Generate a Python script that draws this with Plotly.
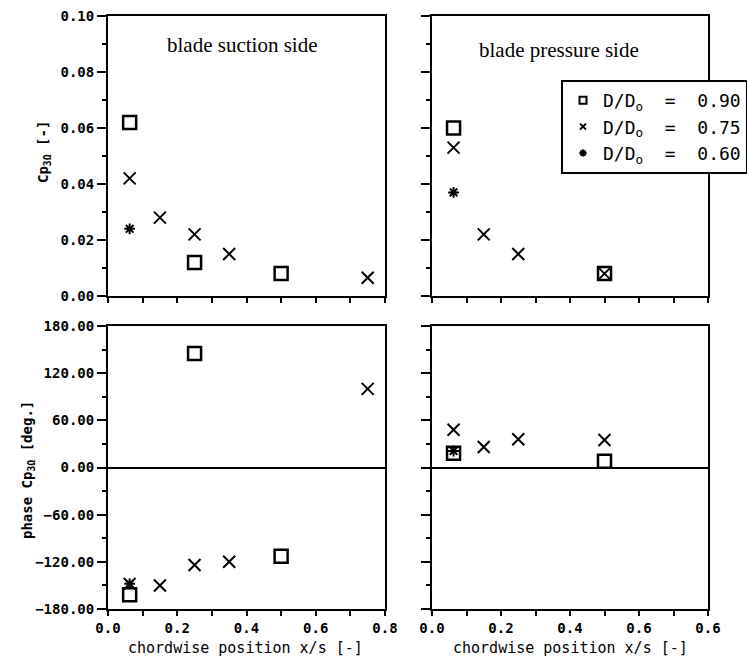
import plotly.graph_objects as go

# ---------------- data ----------------
# blade suction side
ss_sq_x = [0.0625, 0.25, 0.5]
ss_sq_cp = [0.062, 0.012, 0.008]
ss_sq_ph = [-162, 145, -113]

ss_x_x = [0.0625, 0.15, 0.25, 0.35, 0.75]
ss_x_cp = [0.042, 0.028, 0.022, 0.015, 0.0065]
ss_x_ph = [-148, -150, -124, -120, 100]

ss_st_x = [0.0625]
ss_st_cp = [0.024]
ss_st_ph = [-148]

# blade pressure side
ps_sq_x = [0.0625, 0.5]
ps_sq_cp = [0.060, 0.008]
ps_sq_ph = [18, 8]

ps_x_x = [0.0625, 0.15, 0.25, 0.5]
ps_x_cp = [0.053, 0.022, 0.015, 0.008]
ps_x_ph = [48, 26, 36, 35]

ps_st_x = [0.0625]
ps_st_cp = [0.037]
ps_st_ph = [21]

series_names = ["D/D<sub>o</sub>\u00a0\u00a0=\u00a0\u00a00.90",
                "D/D<sub>o</sub>\u00a0\u00a0=\u00a0\u00a00.75",
                "D/D<sub>o</sub>\u00a0\u00a0=\u00a0\u00a00.60"]

x_tickvals = [0.0, 0.2, 0.4, 0.6, 0.8]
x_ticktext_left = ["0.0", "0.2", "0.4", "0.6", "0.8"]
x_ticktext_right = ["0.0", "0.2", "0.4", "0.6", "0.6"]

# ---------------- styles ----------------
W, H = 747, 664
def px_x(p): return p / W
def px_y(p): return 1 - p / H

sym = [
    dict(symbol="square-open", size=13, color="black", line=dict(width=2.5, color="black")),
    dict(symbol="x-thin-open", size=12, color="black", line=dict(width=2, color="black")),
    dict(symbol="asterisk-open", size=9, color="black", line=dict(width=2, color="black")),
]
leg_sym = [
    dict(symbol="square-open", size=7, color="black", line=dict(width=2, color="black")),
    dict(symbol="x-thin-open", size=6, color="black", line=dict(width=2, color="black")),
    dict(symbol="asterisk-open", size=6, color="black", line=dict(width=2, color="black")),
]

fig = go.Figure()

panels = [
    ("x", "y", [(ss_sq_x, ss_sq_cp), (ss_x_x, ss_x_cp), (ss_st_x, ss_st_cp)]),
    ("x2", "y2", [(ps_sq_x, ps_sq_cp), (ps_x_x, ps_x_cp), (ps_st_x, ps_st_cp)]),
    ("x3", "y3", [(ss_sq_x, ss_sq_ph), (ss_x_x, ss_x_ph), (ss_st_x, ss_st_ph)]),
    ("x4", "y4", [(ps_sq_x, ps_sq_ph), (ps_x_x, ps_x_ph), (ps_st_x, ps_st_ph)]),
]

for pi, (xa, ya, data) in enumerate(panels):
    for si, (xs, ys) in enumerate(data):
        fig.add_trace(go.Scatter(
            x=xs, y=ys, mode="markers", xaxis=xa, yaxis=ya,
            marker=sym[si], name=series_names[si], legendgroup=str(si),
            showlegend=False,
        ))

# legend entries (small symbols, as in the reference legend)
for si in range(3):
    fig.add_trace(go.Scatter(
        x=[None], y=[None], mode="markers", xaxis="x2", yaxis="y2",
        marker=leg_sym[si], name=series_names[si], legendgroup=str(si),
        showlegend=True, legendrank=si + 1,
    ))

left_dom = [px_x(108), px_x(385)]
right_dom = [px_x(432), px_x(708)]
top_dom = [px_y(296), px_y(16)]
bot_dom = [px_y(609), px_y(326)]

tickfont = dict(family="DejaVu Sans Mono", size=14, color="black", weight="bold")
xtickfont = dict(family="DejaVu Sans Mono", size=14, color="black", weight="bold")
titlefont = dict(family="DejaVu Sans Mono", size=15, color="black")
ytitlefont = dict(family="DejaVu Sans Mono", size=14, color="black", weight="bold")

def xaxis(dom, anchor, labels=None):
    d = dict(domain=dom, anchor=anchor, range=[0, 0.8], showgrid=False, zeroline=False,
             showline=True, linecolor="black", linewidth=2, mirror=True, automargin=False,
             ticks="outside", ticklen=5, tickwidth=1.5, tickcolor="black",
             tickvals=x_tickvals, tickfont=xtickfont,
             minor=dict(dtick=0.1, tick0=0, ticks="outside", ticklen=5, tickwidth=1.5,
                        tickcolor="black", showgrid=False))
    if labels is None:
        d["showticklabels"] = False
    else:
        d["ticktext"] = labels
    return d

def yaxis_cp(dom, anchor, labels=True):
    return dict(domain=dom, anchor=anchor, range=[0, 0.1], showgrid=False, zeroline=False,
                showline=True, linecolor="black", linewidth=2, mirror=True, automargin=False,
                ticks="outside", ticklen=9, tickwidth=1.5, tickcolor="black",
                dtick=0.02, tick0=0, tickformat=".2f", tickfont=tickfont,
                showticklabels=labels,
                minor=dict(dtick=0.01, tick0=0, ticks="outside", ticklen=4, tickwidth=1.5,
                           tickcolor="black", showgrid=False))

def yaxis_ph(dom, anchor, labels=True):
    return dict(domain=dom, anchor=anchor, range=[-180, 180], showgrid=False,
                zeroline=True, zerolinecolor="black", zerolinewidth=2,
                showline=True, linecolor="black", linewidth=2, mirror=True, automargin=False,
                ticks="outside", ticklen=9, tickwidth=1.5, tickcolor="black",
                dtick=60, tick0=0, tickformat=".2f", tickfont=tickfont,
                showticklabels=labels,
                minor=dict(dtick=30, tick0=0, ticks="outside", ticklen=4, tickwidth=1.5,
                           tickcolor="black", showgrid=False))

def ann(text, x, y, font, angle=0):
    return dict(text=text, x=px_x(x), y=px_y(y), xref="paper", yref="paper",
                xanchor="center", yanchor="middle", textangle=angle,
                showarrow=False, font=font)

fig.update_layout(
    width=W, height=H, margin=dict(l=0, r=0, t=0, b=0, autoexpand=False),
    paper_bgcolor="white", plot_bgcolor="white",
    xaxis=xaxis(left_dom, "y"),
    yaxis=yaxis_cp(top_dom, "x", True),
    xaxis2=xaxis(right_dom, "y2"),
    yaxis2=yaxis_cp(top_dom, "x2", False),
    xaxis3=xaxis(left_dom, "y3", x_ticktext_left),
    yaxis3=yaxis_ph(bot_dom, "x3", True),
    xaxis4=xaxis(right_dom, "y4", x_ticktext_right),
    yaxis4=yaxis_ph(bot_dom, "x4", False),
    legend=dict(x=px_x(561), y=px_y(80), xanchor="left", yanchor="top",
                bordercolor="black", borderwidth=2, bgcolor="white",
                font=dict(family="DejaVu Sans Mono", size=18, color="black"),
                tracegroupgap=0, itemwidth=30),
    annotations=[
        ann("blade suction side", 242, 45, dict(family="Liberation Serif", size=21, color="black")),
        ann("blade pressure side", 559, 50, dict(family="Liberation Serif", size=21, color="black")),
        ann("Cp<sub>3Ω</sub> [-]", 44, 152, ytitlefont, -90),
        ann("phase Cp<sub>3Ω</sub> [deg.]", 28, 470, ytitlefont, -90),
        ann("chordwise position x/s [-]", 245, 648, titlefont),
        ann("chordwise position x/s [-]", 570, 648, titlefont),
    ],
)

fig.write_html("out.html")
